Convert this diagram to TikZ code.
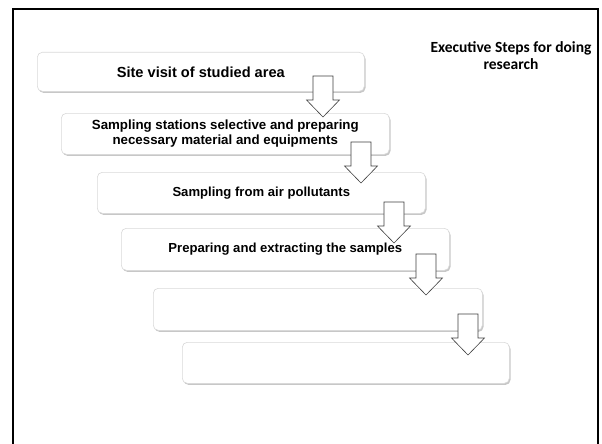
\documentclass[tikz,border=0pt]{standalone}
\usepackage{fontspec}
\setmainfont{Liberation Sans}
\newfontfamily\calibri{Carlito}
\usetikzlibrary{shadows}
\begin{document}
\begin{tikzpicture}[x=1pt,y=-1pt,
  stepbox/.style={draw=black!15, line width=0.6pt, fill=white, rounded corners=5pt,
    copy shadow={shadow xshift=1.2pt, shadow yshift=-1.6pt, draw=none, fill=black!22},
    font=\bfseries\fontsize{13.1}{15}\selectfont, align=center, inner sep=0pt, anchor=north west},
  bigtext/.style={font=\bfseries\fontsize{14.6}{16}\selectfont},
  blockarrow/.style={draw=black!75, line width=0.6pt, fill=white, line join=miter},
  downarrow/.pic={\draw[blockarrow] (-10,-41) -- (-10,-17) -- (-16.5,-17) -- (0,0) -- (16.5,-17) -- (10,-17) -- (10,-41) -- cycle;},
  frame/.style={line width=2pt, draw=black}
]
\useasboundingbox (0,0) rectangle (602,444);
\draw[frame] (13,445) -- (13,9) -- (598,9) -- (598,445);

\node[font=\calibri\bfseries\fontsize{15.5}{17}\selectfont, align=center] (title) at (511,56) {Executive Steps for doing\\research};

\node[stepbox, bigtext, minimum width=327pt, minimum height=39pt] (b1) at (37,52) {Site visit of studied area};
\node[stepbox, font=\bfseries\fontsize{13.3}{15}\selectfont, minimum width=328pt, minimum height=41pt] (b2) at (61,113) {Sampling stations selective and preparing\\necessary material and equipments};
\node[stepbox, minimum width=328pt, minimum height=41pt] (b3) at (97,172) {Sampling from air pollutants};
\node[stepbox, minimum width=328pt, minimum height=42pt] (b4) at (121,228) {Preparing and extracting the samples};
\node[stepbox, minimum width=329pt, minimum height=42pt] (b5) at (153,288) {};
\node[stepbox, minimum width=327pt, minimum height=41pt] (b6) at (182,342) {};

\coordinate (t1) at (323,117);
\coordinate (t2) at (361,183);
\coordinate (t3) at (394,243);
\coordinate (t4) at (426,295);
\coordinate (t5) at (468,355);
\foreach \t in {t1,t2,t3,t4,t5} \pic at (\t) {downarrow};
\end{tikzpicture}
\end{document}
